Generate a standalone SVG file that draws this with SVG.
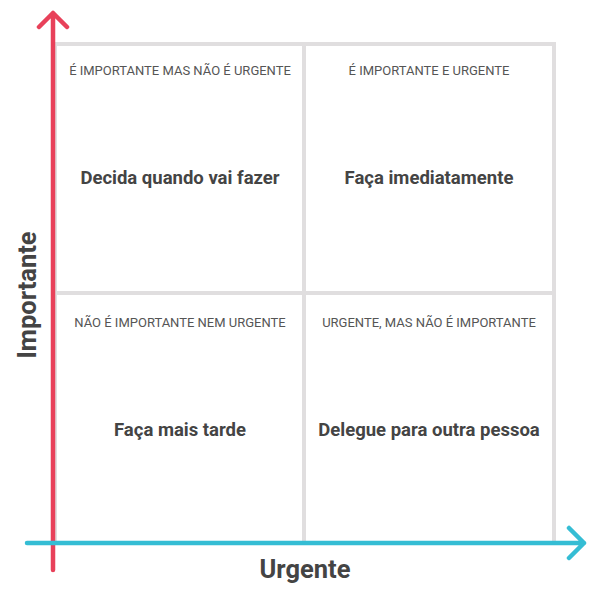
<svg xmlns="http://www.w3.org/2000/svg" width="600" height="590" viewBox="0 0 600 590">
<style>
.grid{fill:none;stroke:#e0dedf;stroke-width:4}
.h{font-family:Roboto,"Liberation Sans",sans-serif;font-size:13px;fill:#555;text-anchor:middle}
.t{font-family:Roboto,"Liberation Sans",sans-serif;font-size:18.5px;font-weight:bold;fill:#444;text-anchor:middle}
.ax{font-family:Roboto,"Liberation Sans",sans-serif;font-size:25.5px;font-weight:bold;fill:#444;text-anchor:middle}
</style>
<rect width="600" height="590" fill="#fff"/>
<g id="grid">
<rect class="grid" x="55" y="44" width="499" height="499"/>
<line class="grid" x1="304" y1="44" x2="304" y2="543"/>
<line class="grid" x1="55" y1="293" x2="554" y2="293"/>
</g>
<g id="q1"><text class="h" x="180" y="75">É IMPORTANTE MAS NÃO É URGENTE</text><text class="t" x="180" y="184">Decida quando vai fazer</text></g>
<g id="q2"><text class="h" x="429" y="75">É IMPORTANTE E URGENTE</text><text class="t" x="429" y="184">Faça imediatamente</text></g>
<g id="q3"><text class="h" x="180" y="327">NÃO É IMPORTANTE NEM URGENTE</text><text class="t" x="180" y="436">Faça mais tarde</text></g>
<g id="q4"><text class="h" x="429" y="327">URGENTE, MAS NÃO É IMPORTANTE</text><text class="t" x="429" y="436">Delegue para outra pessoa</text></g>
<g id="connectors" fill="none" stroke-width="4.5" stroke-linecap="round" stroke-linejoin="round">
<path d="M53 570V13M39 27L53 13L67 27" stroke="#e8415a"/>
<path d="M27 543H584M569 528L584 543L569 558" stroke="#35bdd4"/>
</g>
<text class="ax" x="305" y="578">Urgente</text>
<text class="ax" transform="translate(36 295) rotate(-90)">Importante</text>
</svg>
